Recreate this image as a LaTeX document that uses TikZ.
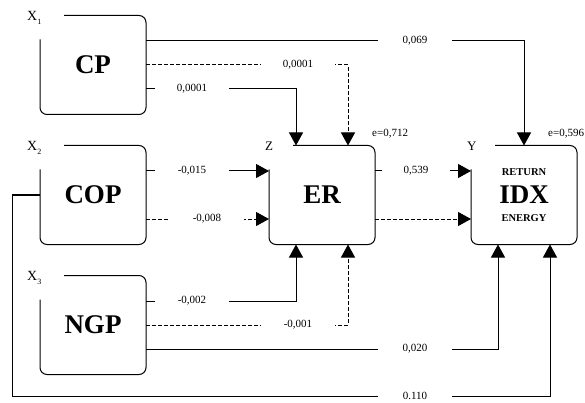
\documentclass[tikz,border=0pt]{standalone}
\usepackage{fontspec}
\setmainfont{Liberation Serif}
\usetikzlibrary{calc,positioning,arrows.meta}

\begin{document}
\begin{tikzpicture}[x=1pt,y=-1pt,
  box/.style={minimum width=106pt,minimum height=99pt,inner sep=0pt,outer sep=0pt,font=\fontsize{27}{27}\selectfont\bfseries},
  outline/.style={line width=1pt,rounded corners=7pt},
  link/.style={line width=1pt,-{Triangle[length=13pt,width=14pt]}},
  brk/.style={dash pattern=on 4pt off 2pt},
  coef/.style={fill=white,minimum width=74pt,inner sep=1pt,font=\fontsize{11}{11}\selectfont},
  var/.style={anchor=base west,inner sep=0pt,font=\fontsize{14}{14}\selectfont},
  err/.style={anchor=base west,inner sep=0pt,font=\fontsize{11}{11}\selectfont},
  sub/.style={inner sep=0pt,font=\fontsize{10.5}{10.5}\selectfont\bfseries}]
  \useasboundingbox (0,0) rectangle (585,403);
  \newcommand{\sbs}[1]{\raisebox{-4pt}{\fontsize{8}{8}\selectfont #1}}

  \node[box] (cp) at (93,65) {CP};
  \node[box,below=31pt of cp] (cop) {COP};
  \node[box,below=31pt of cop] (ngp) {NGP};
  \node[box,right=123pt of cop] (er) {ER};
  \node[box,right=96pt of er] (idx) {IDX};
  \node[sub] (ret) at ($(idx.center)+(0,-23)$) {RETURN};
  \node[sub] (nrg) at ($(idx.center)+(0,23)$) {ENERGY};

  \foreach \b in {cp,cop,ngp,er,idx}
    \draw[outline] ($(\b.north west)+(0,24)$) -- (\b.south west) -- (\b.south east)
      -- (\b.north east) -- ($(\b.north west)+(24,0)$);

  \node[var] (x1) at ($(cp.north west)+(-13,5)$) {X\sbs{1}};
  \node[var] (x2) at ($(cop.north west)+(-13,5)$) {X\sbs{2}};
  \node[var] (x3) at ($(ngp.north west)+(-13,5)$) {X\sbs{3}};
  \node[var,font=\fontsize{13}{13}\selectfont] (z) at ($(er.north west)+(-4,5)$) {Z};
  \node[var,font=\fontsize{13}{13}\selectfont] (y) at ($(idx.north west)+(-4,5)$) {Y};
  \node[err] (e1) at ($(er.north east)+(-3,-9)$) {e=0,712};
  \node[err] (e2) at ($(idx.north east)+(-29,-9)$) {e=0,596};

  \coordinate (turn) at (12,396);
  \draw[link] ($(cp.east)+(0,-24)$) -| (idx.north);
  \draw[link,brk] (cp.east) -| ($(er.north east)+(-27,0)$);
  \draw[link] ($(cp.east)+(0,24)$) -| ($(er.north west)+(27,0)$);
  \draw[link] ($(cop.east)+(0,-24)$) -- ($(er.west)+(0,-24)$);
  \draw[link,brk] ($(cop.east)+(0,24)$) -- ($(er.west)+(0,24)$);
  \draw[link] ($(er.east)+(0,-24)$) -- ($(idx.west)+(0,-24)$);
  \draw[link,brk] ($(er.east)+(0,24)$) -- ($(idx.west)+(0,24)$);
  \draw[link] ($(ngp.east)+(0,-24)$) -| ($(er.south west)+(27,0)$);
  \draw[link,brk] (ngp.east) -| ($(er.south east)+(-27,0)$);
  \draw[link] ($(ngp.east)+(0,24)$) -| ($(idx.south west)+(27,0)$);
  \draw[link] (cop.west) -| (turn) -| ($(idx.south east)+(-27,0)$);

  \node[coef] (c1) at (415,41) {0,069};
  \node[coef] (c2) at (298,65) {0,0001};
  \node[coef] (c3) at (192,89) {0,0001};
  \node[coef] (c4) at (192,171) {-0,015};
  \node[coef] (c5) at (207,219) {-0,008};
  \node[coef,minimum width=68pt] (c6) at (416,171) {0,539};
  \node[coef] (c7) at (192,301) {-0,002};
  \node[coef] (c8) at (298,325) {-0,001};
  \node[coef] (c9) at (415,349) {0,020};
  \node[coef] (c10) at (415,396) {0.110};
\end{tikzpicture}
\end{document}
